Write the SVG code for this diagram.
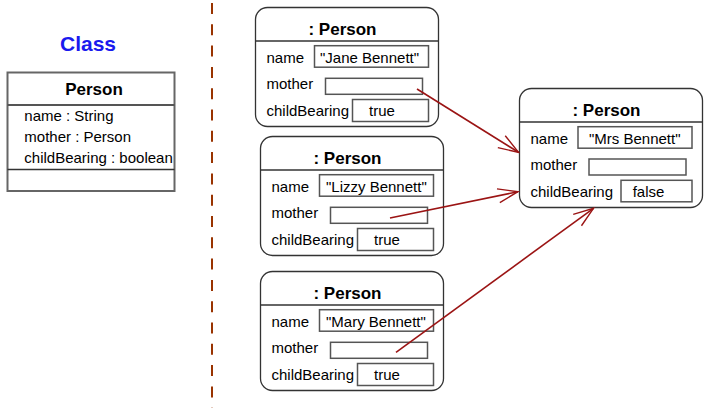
<svg xmlns="http://www.w3.org/2000/svg" width="710" height="408" viewBox="0 0 710 408">
<style>
text{font-family:"Liberation Sans",Arial,sans-serif;font-size:15px;fill:#000}
.t{font-weight:bold;font-size:17px;text-anchor:middle}
.box{fill:#fff;stroke:#333;stroke-width:1.3}
.cls{fill:#fff;stroke:#666;stroke-width:2}
.ln{stroke:#333;stroke-width:1.3}
.val{fill:#fff;stroke:#555;stroke-width:1.5}
.conn{stroke:#9b1414;stroke-width:1.6;fill:none;marker-end:url(#arr)}
</style>
<defs>
<marker id="arr" viewBox="-22 -9 24 18" markerWidth="24" markerHeight="18" refX="0" refY="0" orient="auto" markerUnits="userSpaceOnUse">
<path d="M-20,-7 L0,0 L-20,7" fill="none" stroke="#9b1414" stroke-width="1.4"/>
</marker>
</defs>
<rect width="710" height="408" fill="#fff"/>
<text x="88" y="50.5" style="font-size:21px;font-weight:bold;fill:#1a1aee;text-anchor:middle">Class</text>
<g id="classPerson">
<rect class="cls" x="7.5" y="72.5" width="167" height="118.5"/>
<line x1="7.5" y1="105" x2="174.5" y2="105" stroke="#555" stroke-width="2"/>
<line x1="7.5" y1="169.5" x2="174.5" y2="169.5" stroke="#333" stroke-width="1.5"/>
<text class="t" x="94" y="94.5">Person</text>
<text x="24.3" y="120.7">name : String</text>
<text x="24.3" y="142.3">mother : Person</text>
<text x="24.3" y="163.3">childBearing : boolean</text>
</g>
<line x1="212" y1="3" x2="212" y2="408" stroke="#993300" stroke-width="2" stroke-dasharray="11,10.3"/>
<g id="jane">
<rect class="box" x="255.5" y="7.5" width="183" height="119" rx="12"/>
<line class="ln" x1="255.5" y1="41" x2="438.5" y2="41"/>
<text class="t" x="342.5" y="35.3">: Person</text>
<text x="266.5" y="62.5">name</text>
<text x="266.5" y="89">mother</text>
<text x="266.5" y="115.5">childBearing</text>
<rect class="val" x="314.5" y="45.7" width="114" height="21.5"/>
<rect class="val" x="325.5" y="78.3" width="97" height="16"/>
<rect class="val" x="352.5" y="99.5" width="76" height="22"/>
<text x="320" y="62.5">"Jane Bennett"</text>
<text x="369" y="115.5">true</text>
</g>
<g id="lizzy">
<rect class="box" x="260.5" y="136.5" width="183" height="119" rx="12"/>
<line class="ln" x1="260.5" y1="170" x2="443.5" y2="170"/>
<text class="t" x="347.5" y="164.3">: Person</text>
<text x="271.5" y="191.5">name</text>
<text x="271.5" y="218">mother</text>
<text x="271.5" y="244.5">childBearing</text>
<rect class="val" x="319.5" y="174.7" width="114" height="21.5"/>
<rect class="val" x="330.5" y="207.3" width="97" height="16"/>
<rect class="val" x="357.5" y="228.5" width="76" height="22"/>
<text x="326" y="191.5">"Lizzy Bennett"</text>
<text x="374" y="244.5">true</text>
</g>
<g id="mary">
<rect class="box" x="260.5" y="271.5" width="183" height="119" rx="12"/>
<line class="ln" x1="260.5" y1="305" x2="443.5" y2="305"/>
<text class="t" x="347.5" y="299.3">: Person</text>
<text x="271.5" y="326.5">name</text>
<text x="271.5" y="353">mother</text>
<text x="271.5" y="379.5">childBearing</text>
<rect class="val" x="319.5" y="309.7" width="114" height="21.5"/>
<rect class="val" x="330.5" y="342.3" width="97" height="16"/>
<rect class="val" x="357.5" y="363.5" width="76" height="22"/>
<text x="326" y="326.5">"Mary Bennett"</text>
<text x="374" y="379.5">true</text>
</g>
<g id="mrs">
<rect class="box" x="519.5" y="88.5" width="183" height="119" rx="12"/>
<line class="ln" x1="519.5" y1="122" x2="702.5" y2="122"/>
<text class="t" x="606.5" y="116.3">: Person</text>
<text x="530.5" y="143.5">name</text>
<text x="530.5" y="170">mother</text>
<text x="530.5" y="196.5">childBearing</text>
<rect class="val" x="578" y="126.7" width="114" height="21.5"/>
<rect class="val" x="589" y="159" width="97" height="16"/>
<rect class="val" x="621" y="180.3" width="71" height="21.5"/>
<text x="589" y="143.5">"Mrs Bennett"</text>
<text x="632.7" y="196.5">false</text>
</g>
<g id="connectors">
<line class="conn" x1="417" y1="89" x2="518.5" y2="152.3"/>
<line class="conn" x1="390" y1="218" x2="518" y2="191.7"/>
<line class="conn" x1="396" y1="352.3" x2="593.5" y2="208.3"/>
</g>
</svg>
